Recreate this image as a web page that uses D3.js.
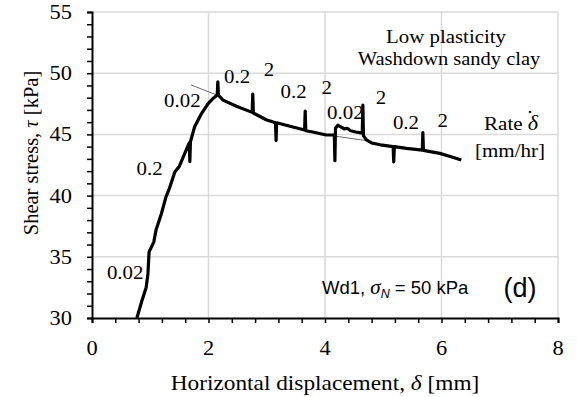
<!DOCTYPE html>
<html>
<head>
<meta charset="utf-8">
<script src="https://cdn.jsdelivr.net/npm/d3@7/dist/d3.min.js"></script>
<style>
  body { margin: 0; background: #fff; }
  text { fill: #000; }
</style>
</head>
<body>
<div id="chart"></div>
<script>
// horizontal displacement (mm) and shear stress (kPa)
const displacement = [0.77, 0.85, 0.93, 0.96, 0.98, 1.06, 1.10, 1.19, 1.27, 1.33, 1.42, 1.50, 1.58, 1.65, 1.67, 1.68, 1.69,
  1.76, 1.88, 1.99, 2.08, 2.15, 2.16, 2.17, 2.25, 2.48, 2.75, 2.76, 2.77, 2.99, 3.15, 3.16, 3.17, 3.45, 3.65, 3.66, 3.67,
  3.79, 4.02, 4.16, 4.17, 4.18, 4.22, 4.28, 4.33, 4.38, 4.44, 4.53, 4.64, 4.65, 4.66, 4.71, 4.80, 4.95, 5.17, 5.18, 5.19,
  5.40, 5.67, 5.68, 5.69, 5.97, 6.15, 6.34];
const shearStress = [30.0, 31.3, 32.5, 33.6, 35.4, 36.2, 37.2, 38.5, 39.9, 40.6, 41.9, 42.4, 43.3, 44.1, 44.3, 42.8, 44.4,
  45.6, 46.7, 47.5, 47.95, 48.2, 49.3, 48.2, 47.8, 47.3, 46.8, 48.3, 46.75, 46.2, 45.95, 44.5, 45.95, 45.6, 45.36, 46.9, 45.3,
  45.2, 44.95, 44.95, 42.85, 45.5, 45.75, 45.6, 45.45, 45.5, 45.3, 45.2, 45.1, 47.4, 44.9, 44.55, 44.3, 44.15, 44.0, 42.75, 44.0,
  43.86, 43.72, 45.15, 43.7, 43.45, 43.2, 42.9];

// thin trend segments [x1, y1, x2, y2]
const trendLines = [[1.70, 49.04, 2.15, 48.2], [4.18, 44.85, 4.70, 44.5]];

// shear rate labels (mm/hr)
const rateText = ["0.02", "0.2", "0.02", "0.2", "2", "0.2", "2", "0.02", "2", "0.2", "2"];
const rateX = [0.57, 0.99, 1.55, 2.49, 3.04, 3.46, 4.03, 4.35, 4.96, 5.39, 6.02];
const rateY = [33.7, 42.2, 47.8, 49.7, 50.3, 48.5, 48.8, 46.8, 48.05, 46.0, 46.1];

const xTicks = [0, 2, 4, 6, 8];
const yTicks = [30, 35, 40, 45, 50, 55];

const W = 577, H = 397;
const margin = { top: 12, right: 19, bottom: 79, left: 92 },
  width = W - margin.left - margin.right,
  height = H - margin.top - margin.bottom;

const serif = "'Liberation Serif', 'Times New Roman', serif";
const sans = "'Liberation Sans', Arial, sans-serif";

const svg = d3.select("#chart").append("svg").attr("width", W).attr("height", H);
const g = svg.append("g").attr("transform", `translate(${margin.left},${margin.top})`);

// text slightly stretched sideways like the source figure
function label(parent, x, y, size, anchor, sx, font) {
  return parent.append("text")
    .attr("transform", `translate(${x},${y}) scale(${sx},1)`)
    .attr("text-anchor", anchor)
    .attr("font-family", font || serif)
    .attr("font-size", size);
}

const x = d3.scaleLinear().domain([0, 8]).range([0, width]);
const y = d3.scaleLinear().domain([30, 55]).range([height, 0]);

// grid
g.append("g").selectAll("line").data(xTicks.slice(1)).join("line")
  .attr("x1", d => x(d)).attr("x2", d => x(d)).attr("y1", 0).attr("y2", height)
  .attr("stroke", "#d9d9d9").attr("stroke-width", 1.5);
g.append("g").selectAll("line").data(yTicks.slice(1)).join("line")
  .attr("x1", 0).attr("x2", width).attr("y1", d => y(d)).attr("y2", d => y(d))
  .attr("stroke", "#d9d9d9").attr("stroke-width", 1.5);

// axes
const xAxis = g.append("g").attr("transform", `translate(0,${height})`)
  .call(d3.axisBottom(x).tickValues(d3.range(0, 8.01, 0.4)).tickSize(5).tickFormat(""));
xAxis.select(".domain").attr("stroke-width", 2);
xAxis.selectAll(".tick line").attr("stroke-width", 1.5);
xTicks.forEach(d => label(g, x(d), height + 37, 20, "middle", 1.12).text(d));

const yAxis = g.append("g")
  .call(d3.axisLeft(y).tickValues(d3.range(30, 55.01, 1)).tickSize(5).tickFormat(""));
yAxis.select(".domain").attr("stroke-width", 2);
yAxis.selectAll(".tick line").attr("stroke-width", 1.5);
yTicks.forEach(d => label(g, -20, y(d) + 7, 20, "end", 1.12).text(d));

// axis titles
const xt = label(svg, margin.left + width / 2, 390, 22, "middle", 1.06);
xt.append("tspan").text("Horizontal displacement, ");
xt.append("tspan").attr("font-style", "italic").text("δ");
xt.append("tspan").text(" [mm]");

const yt = svg.append("text").attr("transform", "translate(38,153) rotate(-90)")
  .attr("text-anchor", "middle").attr("font-family", serif).attr("font-size", 20.5);
yt.append("tspan").text("Shear stress, ");
yt.append("tspan").attr("font-style", "italic").text("τ");
yt.append("tspan").text(" [kPa]");

// trend lines
g.append("g").selectAll("line").data(trendLines).join("line")
  .attr("x1", d => x(d[0])).attr("y1", d => y(d[1]))
  .attr("x2", d => x(d[2])).attr("y2", d => y(d[3]))
  .attr("stroke", "#444").attr("stroke-width", 0.8);

// curve
const pts = displacement.map((d, i) => [d, shearStress[i]]);
g.append("path").datum(pts)
  .attr("fill", "none").attr("stroke", "#000").attr("stroke-width", 3.2)
  .attr("stroke-linejoin", "round")
  .attr("d", d3.line().x(d => x(d[0])).y(d => y(d[1])));

// rate labels
rateText.forEach((t, i) => label(g, x(rateX[i]), y(rateY[i]) + 6.5, 19, "middle", 1.1).text(t));

// annotations
label(svg, 446, 43, 19.5, "middle", 1.07).text("Low plasticity");
label(svg, 449, 65, 19.5, "middle", 1.05).text("Washdown sandy clay");
const rt = label(svg, 484, 130, 19.5, "start", 1.08);
rt.append("tspan").text("Rate ");
rt.append("tspan").attr("font-style", "italic").attr("font-size", 20.5).text("δ");
// dot accent over the delta
label(svg, 530, 125, 22, "middle", 1).text("˙");
label(svg, 510, 157, 19.5, "middle", 1.08).text("[mm/hr]");

const wd = label(svg, 322, 294, 18.5, "start", 1, sans);
wd.append("tspan").text("Wd1, ");
wd.append("tspan").attr("font-family", serif).attr("font-style", "italic").attr("font-size", 21).text("σ");
wd.append("tspan").attr("font-style", "italic").attr("font-size", 12.5).attr("dy", 4).text("N");
wd.append("tspan").attr("dy", -4).text(" = 50 kPa");
label(svg, 520, 297, 27, "middle", 1, sans).text("(d)");
</script>
</body>
</html>
